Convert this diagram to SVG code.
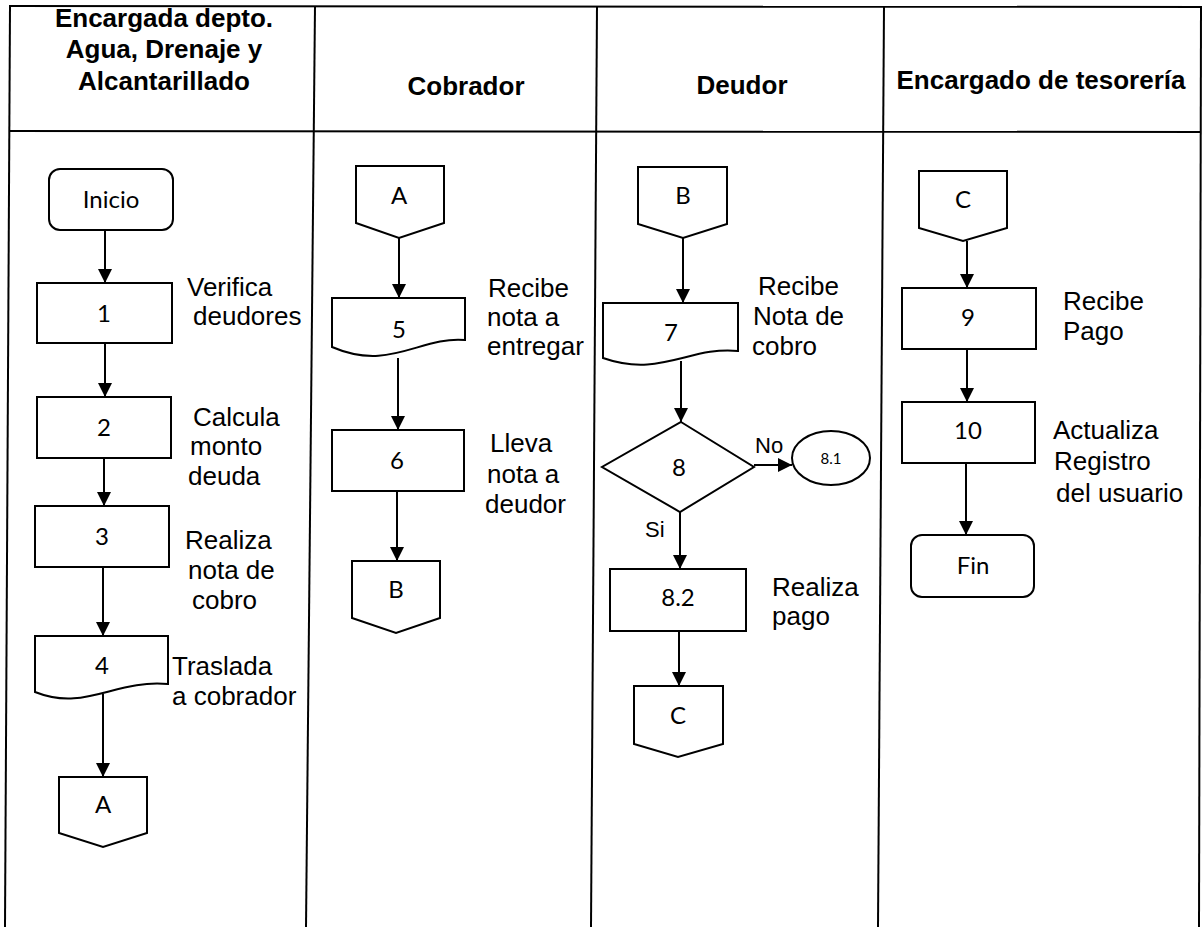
<svg xmlns="http://www.w3.org/2000/svg" width="1204" height="927" viewBox="0 0 1204 927">
  <style>
    .grid { stroke: #000; stroke-width: 2; fill: none; }
    .edge { stroke: #000; stroke-width: 2; fill: none; }
    .shape { fill: #fff; stroke: #000; stroke-width: 2; }
    .hdr { font-family: "Liberation Sans", Arial, sans-serif; font-weight: bold; font-size: 26px; fill: #000; text-anchor: middle; }
    .lbl { font-family: "Liberation Sans", Arial, sans-serif; font-size: 26px; fill: #000; }
    .yn { font-family: "Liberation Sans", Arial, sans-serif; font-size: 22px; fill: #000; }
    .nt { font-family: Lato, "Open Sans", sans-serif; font-size: 24px; fill: #000; text-anchor: middle; }
    .nt-sm { font-family: Lato, "Open Sans", sans-serif; font-size: 15px; fill: #000; text-anchor: middle; }
  </style>
  <defs>
    <marker id="arrow" markerUnits="userSpaceOnUse" markerWidth="14" markerHeight="14" refX="14" refY="7" orient="auto">
      <path d="M0,0 L14,7 L0,14 Z" fill="#000"/>
    </marker>
  </defs>

  <rect x="0" y="0" width="1204" height="927" fill="#fff"/>

  <!-- swimlane table -->
  <g id="table">
    <line class="grid" x1="9" y1="6" x2="1201" y2="7"/>
    <line class="grid" x1="9" y1="131" x2="1200" y2="132"/>
    <line class="grid" x1="10" y1="6" x2="5" y2="927"/>
    <line class="grid" x1="315" y1="6" x2="306" y2="927"/>
    <line class="grid" x1="597" y1="6" x2="591" y2="927"/>
    <line class="grid" x1="884" y1="6" x2="878" y2="927"/>
    <line class="grid" x1="1201" y1="6" x2="1199" y2="927"/>
  </g>

  <g id="headers">
    <text class="hdr" x="164" y="27">Encargada depto.</text>
    <text class="hdr" x="164" y="58">Agua, Drenaje y</text>
    <text class="hdr" x="164" y="90">Alcantarillado</text>
    <text class="hdr" x="466" y="95">Cobrador</text>
    <text class="hdr" x="742" y="94">Deudor</text>
    <text class="hdr" x="1041" y="89">Encargado de tesorería</text>
  </g>

  <!-- connectors -->
  <g id="connectors">
    <line class="edge" x1="105" y1="230" x2="105" y2="283" marker-end="url(#arrow)"/>
    <line class="edge" x1="105" y1="343" x2="105" y2="397" marker-end="url(#arrow)"/>
    <line class="edge" x1="104" y1="458" x2="104" y2="506" marker-end="url(#arrow)"/>
    <line class="edge" x1="103" y1="567" x2="103" y2="636" marker-end="url(#arrow)"/>
    <line class="edge" x1="103" y1="694" x2="103" y2="777" marker-end="url(#arrow)"/>

    <line class="edge" x1="399" y1="238" x2="399" y2="298" marker-end="url(#arrow)"/>
    <line class="edge" x1="398" y1="358" x2="398" y2="430" marker-end="url(#arrow)"/>
    <line class="edge" x1="397" y1="491" x2="397" y2="561" marker-end="url(#arrow)"/>

    <line class="edge" x1="683" y1="238" x2="683" y2="303" marker-end="url(#arrow)"/>
    <line class="edge" x1="681" y1="361" x2="681" y2="422" marker-end="url(#arrow)"/>
    <line class="edge" x1="754" y1="465" x2="792" y2="465" marker-end="url(#arrow)"/>
    <line class="edge" x1="680" y1="512" x2="680" y2="569" marker-end="url(#arrow)"/>
    <line class="edge" x1="679" y1="631" x2="679" y2="686" marker-end="url(#arrow)"/>

    <line class="edge" x1="967" y1="241" x2="967" y2="288" marker-end="url(#arrow)"/>
    <line class="edge" x1="967" y1="349" x2="967" y2="402" marker-end="url(#arrow)"/>
    <line class="edge" x1="966" y1="463" x2="966" y2="535" marker-end="url(#arrow)"/>

    <text class="yn" x="755" y="453">No</text>
    <text class="yn" x="645" y="537">Si</text>
  </g>

  <!-- lane 1 -->
  <g id="inicio">
    <rect class="shape" x="49" y="169" width="124" height="61" rx="11"/>
    <text class="nt" x="111" y="208">Inicio</text>
  </g>
  <g id="step1">
    <rect class="shape" x="37" y="283" width="135" height="60"/>
    <text class="nt" x="104" y="322">1</text>
    <text class="lbl" x="187" y="296">Verifica</text>
    <text class="lbl" x="193" y="325">deudores</text>
  </g>
  <g id="step2">
    <rect class="shape" x="37" y="397" width="134" height="61"/>
    <text class="nt" x="104" y="436">2</text>
    <text class="lbl" x="193" y="426">Calcula</text>
    <text class="lbl" x="190" y="455">monto</text>
    <text class="lbl" x="188" y="485">deuda</text>
  </g>
  <g id="step3">
    <rect class="shape" x="35" y="506" width="134" height="61"/>
    <text class="nt" x="102" y="545">3</text>
    <text class="lbl" x="185" y="549">Realiza</text>
    <text class="lbl" x="188" y="579">nota de</text>
    <text class="lbl" x="192" y="609">cobro</text>
  </g>
  <g id="step4">
    <path class="shape" d="M35,636 H168 V684 C115,679 85,712 35,692 Z"/>
    <text class="nt" x="102" y="674">4</text>
    <text class="lbl" x="172" y="675">Traslada</text>
    <text class="lbl" x="172" y="705">a cobrador</text>
  </g>
  <g id="offpage-a1">
    <path class="shape" d="M59,777 H147 V833 L103,847 L59,833 Z"/>
    <text class="nt" x="103" y="813">A</text>
  </g>

  <!-- lane 2 -->
  <g id="offpage-a2">
    <path class="shape" d="M356,166 H444 V223 L399,238 L356,223 Z"/>
    <text class="nt" x="399" y="204">A</text>
  </g>
  <g id="step5">
    <path class="shape" d="M332,298 H465 V340 C420,336 390,372 332,347 Z"/>
    <text class="nt" x="399" y="338">5</text>
    <text class="lbl" x="488" y="297">Recibe</text>
    <text class="lbl" x="487" y="326">nota a</text>
    <text class="lbl" x="487" y="355">entregar</text>
  </g>
  <g id="step6">
    <rect class="shape" x="332" y="430" width="132" height="61"/>
    <text class="nt" x="397" y="469">6</text>
    <text class="lbl" x="490" y="452">Lleva</text>
    <text class="lbl" x="487" y="483">nota a</text>
    <text class="lbl" x="485" y="513">deudor</text>
  </g>
  <g id="offpage-b1">
    <path class="shape" d="M352,561 H440 V618 L396,633 L352,618 Z"/>
    <text class="nt" x="396" y="598">B</text>
  </g>

  <!-- lane 3 -->
  <g id="offpage-b2">
    <path class="shape" d="M638,167 H727 V224 L683,238 L638,224 Z"/>
    <text class="nt" x="683" y="204">B</text>
  </g>
  <g id="step7">
    <path class="shape" d="M603,303 H738 V351 C690,346 660,378 603,358 Z"/>
    <text class="nt" x="671" y="341">7</text>
    <text class="lbl" x="758" y="295">Recibe</text>
    <text class="lbl" x="753" y="325">Nota de</text>
    <text class="lbl" x="752" y="355">cobro</text>
  </g>
  <g id="decision8">
    <path class="shape" d="M681,422 L754,467 L680,512 L602,467 Z"/>
    <text class="nt" x="679" y="476">8</text>
  </g>
  <g id="step8-1">
    <ellipse class="shape" cx="831" cy="458" rx="39" ry="27"/>
    <text class="nt-sm" x="831" y="464">8.1</text>
  </g>
  <g id="step8-2">
    <rect class="shape" x="610" y="569" width="136" height="62"/>
    <text class="nt" x="678" y="606">8.2</text>
    <text class="lbl" x="772" y="596">Realiza</text>
    <text class="lbl" x="772" y="625">pago</text>
  </g>
  <g id="offpage-c1">
    <path class="shape" d="M634,686 H723 V744 L678,757 L634,744 Z"/>
    <text class="nt" x="678" y="724">C</text>
  </g>

  <!-- lane 4 -->
  <g id="offpage-c2">
    <path class="shape" d="M919,171 H1007 V228 L963,241 L919,228 Z"/>
    <text class="nt" x="963" y="208">C</text>
  </g>
  <g id="step9">
    <rect class="shape" x="902" y="288" width="134" height="61"/>
    <text class="nt" x="968" y="326">9</text>
    <text class="lbl" x="1063" y="310">Recibe</text>
    <text class="lbl" x="1063" y="340">Pago</text>
  </g>
  <g id="step10">
    <rect class="shape" x="902" y="402" width="133" height="61"/>
    <text class="nt" x="968" y="439">10</text>
    <text class="lbl" x="1053" y="439">Actualiza</text>
    <text class="lbl" x="1054" y="470">Registro</text>
    <text class="lbl" x="1056" y="502">del usuario</text>
  </g>
  <g id="fin">
    <rect class="shape" x="911" y="535" width="123" height="62" rx="11"/>
    <text class="nt" x="973" y="574">Fin</text>
  </g>
</svg>
